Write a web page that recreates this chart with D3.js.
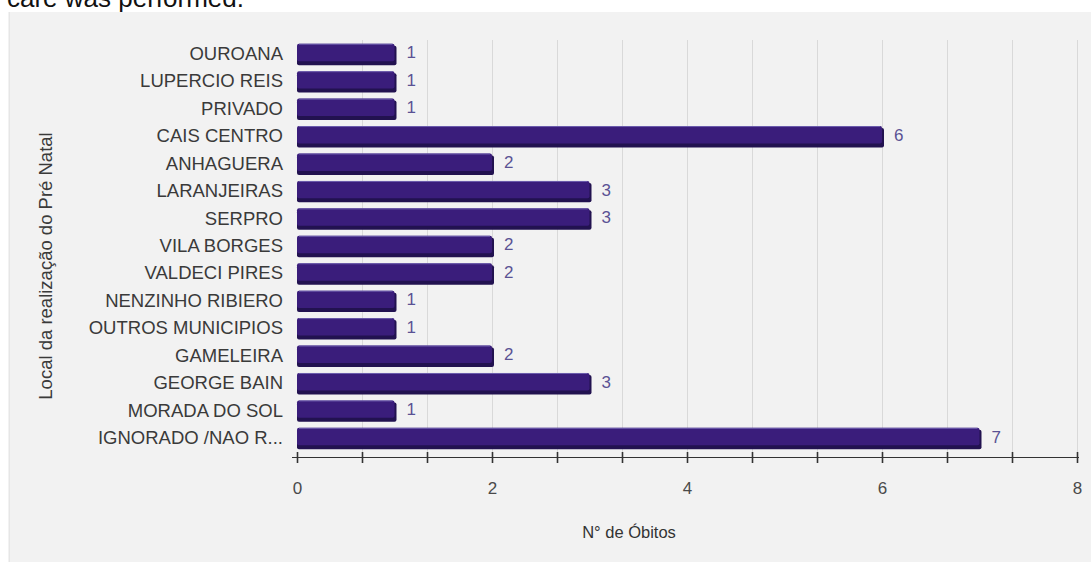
<!DOCTYPE html>
<html>
<head>
<meta charset="utf-8">
<script src="https://cdn.jsdelivr.net/npm/d3@7"></script>
<style>
  html, body { margin: 0; padding: 0; background: #ffffff; }
  svg { display: block; font-family: Arial, "Liberation Sans", sans-serif; }
</style>
</head>
<body>
<svg id="chart" width="1091" height="562"></svg>
<script>
// Prenatal care location vs. number of deaths
const categories = [
  "OUROANA", "LUPERCIO REIS", "PRIVADO", "CAIS CENTRO", "ANHAGUERA",
  "LARANJEIRAS", "SERPRO", "VILA BORGES", "VALDECI PIRES", "NENZINHO RIBIERO",
  "OUTROS MUNICIPIOS", "GAMELEIRA", "GEORGE BAIN", "MORADA DO SOL", "IGNORADO /NAO R..."
];
const deaths = [1, 1, 1, 6, 2, 3, 3, 2, 2, 1, 1, 2, 3, 1, 7];
const tickLabels = [0, 2, 4, 6, 8];
const xMax = 8;
const minorSteps = 12;

const svg = d3.select("#chart");

// caption fragment above the figure
svg.append("text")
  .attr("x", 7).attr("y", 7)
  .attr("font-size", 26).attr("fill", "#111")
  .text("care was performed.");

// chart panel
svg.append("rect")
  .attr("x", 8).attr("y", 12).attr("width", 1083).attr("height", 550)
  .attr("fill", "#f2f2f2");
svg.append("line")
  .attr("x1", 9.5).attr("x2", 9.5).attr("y1", 12).attr("y2", 562)
  .attr("stroke", "#e6e6e6");

const x = d3.scaleLinear().domain([0, xMax]).range([297, 1077]);
const y = d3.scaleBand().domain(categories).range([41, 452])
  .paddingInner(0.22).paddingOuter(0.1);

const axisY = 457;
const gridVals = d3.range(0, minorSteps + 1).map(i => i * xMax / minorSteps);

// vertical gridlines
svg.append("g").selectAll("line").data(gridVals.slice(1)).join("line")
  .attr("x1", d => Math.round(x(d)) + 0.5).attr("x2", d => Math.round(x(d)) + 0.5)
  .attr("y1", 40).attr("y2", axisY)
  .attr("stroke", "#d9d9d9").attr("stroke-width", 1);

// bars with a simple extruded look
const bars = svg.append("g").selectAll("g").data(categories).join("g");
bars.append("rect")
  .attr("x", x(0)).attr("y", d => y(d) + 2)
  .attr("width", (d, i) => x(deaths[i]) - x(0) + 2)
  .attr("height", y.bandwidth() - 2)
  .attr("rx", 2)
  .attr("fill", "#221250");
bars.append("rect")
  .attr("x", x(0)).attr("y", d => y(d))
  .attr("width", (d, i) => x(deaths[i]) - x(0))
  .attr("height", y.bandwidth() - 4)
  .attr("rx", 2)
  .attr("fill", "#3a1d7b");
bars.append("line")
  .attr("x1", x(0) + 2).attr("x2", (d, i) => x(deaths[i]) - 2)
  .attr("y1", d => y(d) + 0.5).attr("y2", d => y(d) + 0.5)
  .attr("stroke", "#6e5fae").attr("stroke-width", 1);

// value labels
svg.append("g").selectAll("text").data(categories).join("text")
  .attr("x", (d, i) => x(deaths[i]) + 12)
  .attr("y", d => y(d) + y.bandwidth() / 2 - 2)
  .attr("dy", "0.35em")
  .attr("font-size", 17).attr("fill", "#5a5294")
  .text((d, i) => deaths[i]);

// category labels
svg.append("g").selectAll("text").data(categories).join("text")
  .attr("x", 283)
  .attr("y", d => y(d) + y.bandwidth() / 2 - 1)
  .attr("dy", "0.35em")
  .attr("text-anchor", "end")
  .attr("font-size", 18.5).attr("fill", "#3a3a3a")
  .text(d => d);

// x axis
const axis = d3.axisBottom(x)
  .tickValues(gridVals)
  .tickSize(0)
  .tickFormat(d => tickLabels.includes(d) ? d : "");
const gAxis = svg.append("g").attr("transform", `translate(0,${axisY})`).call(axis);
gAxis.select(".domain").remove();
gAxis.append("line")
  .attr("x1", 292).attr("x2", 1079).attr("y1", 0.5).attr("y2", 0.5)
  .attr("stroke", "#333").attr("stroke-width", 1.2);
gAxis.selectAll(".tick").append("line")
  .attr("y1", -5).attr("y2", 6)
  .attr("stroke", "#333").attr("stroke-width", 1.6);
gAxis.selectAll(".tick text")
  .attr("y", 31).attr("dy", "0.35em")
  .attr("font-size", 17).attr("fill", "#4a4a4a")
  .attr("font-family", "Arial, 'Liberation Sans', sans-serif");

// axis titles
svg.append("text")
  .attr("x", 629).attr("y", 532).attr("dy", "0.35em")
  .attr("text-anchor", "middle")
  .attr("font-size", 16.5).attr("fill", "#333")
  .text("N° de Óbitos");

svg.append("text")
  .attr("transform", "translate(46,266) rotate(-90)")
  .attr("dy", "0.35em")
  .attr("text-anchor", "middle")
  .attr("font-size", 18.5).attr("fill", "#3a3a3a")
  .text("Local da realização do Pré Natal");
</script>
</body>
</html>
